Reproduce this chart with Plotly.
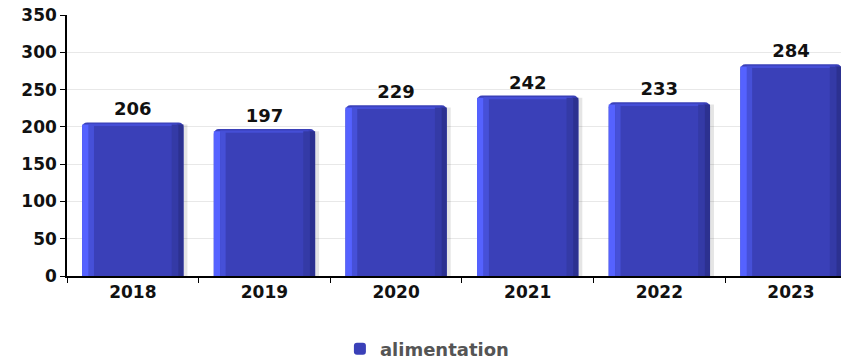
import plotly.graph_objects as go

years = ['2018', '2019', '2020', '2021', '2022', '2023']
alimentation = [206, 197, 229, 242, 233, 284]
y_ticks = [0, 50, 100, 150, 200, 250, 300, 350]

BAR_W = 0.77
font_main = 'DejaVu Sans'

# strips are a little shorter than the bars so the rounded top shows
edge_h = [v - 3 for v in alimentation]
top_base = [v - 5 for v in alimentation]

fig = go.Figure()

# soft shadow on the right of each bar
fig.add_trace(go.Bar(
    x=years, y=edge_h, width=0.04, offset=BAR_W / 2 - 0.01,
    marker=dict(color='rgba(0,0,0,0.10)', line=dict(width=0)),
    showlegend=False, hoverinfo='skip'
))

# main bar body
fig.add_trace(go.Bar(
    x=years, y=alimentation, width=BAR_W, name='alimentation',
    marker=dict(color='#3a40b8', line=dict(width=0), cornerradius=5),
    text=alimentation, textposition='outside', cliponaxis=False,
    textfont=dict(family=font_main, size=18, color='#111111', weight='bold'),
    hovertemplate='%{x}: %{y}<extra></extra>'
))

# lighter top bevel
fig.add_trace(go.Bar(
    x=years, y=[3] * len(years), base=top_base, width=BAR_W - 0.1,
    offset=-BAR_W / 2 + 0.05,
    marker=dict(color='#454ed6', line=dict(width=0)),
    showlegend=False, hoverinfo='skip'
))

# light left edge
fig.add_trace(go.Bar(
    x=years, y=edge_h, width=0.05, offset=-BAR_W / 2,
    marker=dict(color='#5562ff', line=dict(width=0)),
    showlegend=False, hoverinfo='skip'
))
fig.add_trace(go.Bar(
    x=years, y=edge_h, width=0.04, offset=-BAR_W / 2 + 0.05,
    marker=dict(color='#4650d8', line=dict(width=0)),
    showlegend=False, hoverinfo='skip'
))

# dark right edge
fig.add_trace(go.Bar(
    x=years, y=edge_h, width=0.05, offset=BAR_W / 2 - 0.09,
    marker=dict(color='#343aa6', line=dict(width=0)),
    showlegend=False, hoverinfo='skip'
))
fig.add_trace(go.Bar(
    x=years, y=edge_h, width=0.04, offset=BAR_W / 2 - 0.04,
    marker=dict(color='#2c3190', line=dict(width=0)),
    showlegend=False, hoverinfo='skip'
))

tick_font = dict(family=font_main, size=17, color='#111111', weight='bold')

fig.update_layout(
    width=841, height=359,
    barmode='overlay',
    paper_bgcolor='white', plot_bgcolor='white',
    margin=dict(l=67, r=0, t=15, b=83, autoexpand=False),
    font=dict(family=font_main, color='#111111'),
    showlegend=True,
    legend=dict(
        orientation='h', x=0.465, xanchor='center',
        yref='container', y=0.028, yanchor='middle',
        font=dict(family=font_main, size=18, color='#555555', weight='bold'),
        itemwidth=30
    ),
    xaxis=dict(
        range=[-0.5, 5.38],
        showline=True, linecolor='black', linewidth=1.5,
        ticks='outside', tickson='boundaries', ticklen=5, tickcolor='black',
        tickfont=tick_font,
        showgrid=False
    ),
    yaxis=dict(
        range=[0, 350], tickvals=y_ticks,
        showline=True, linecolor='black', linewidth=1.5,
        ticks='outside', ticklen=5, tickcolor='black',
        tickfont=tick_font,
        showgrid=True, gridcolor='#e8e8e8', gridwidth=1,
        zeroline=False
    )
)

# page body margin off so the figure sits at the window origin
fig.write_html(
    "out.html",
    config={'displayModeBar': False},
    post_script="document.body.style.margin='0';"
)
